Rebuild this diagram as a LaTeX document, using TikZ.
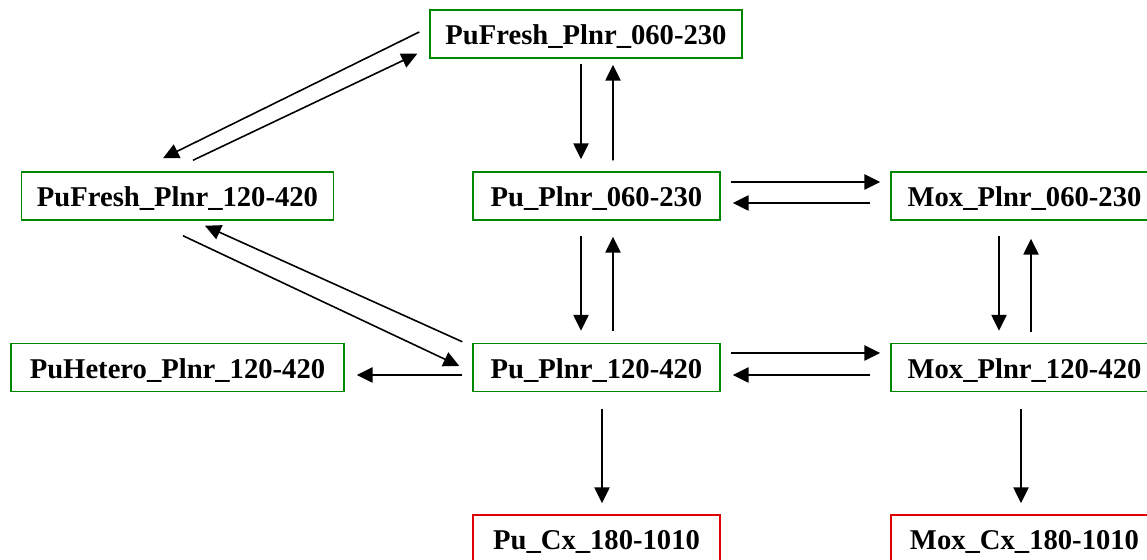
\documentclass[tikz,border=0pt]{standalone}
\usepackage{fontspec}
\setmainfont{Liberation Serif}
\usetikzlibrary{arrows.meta}
\definecolor{boxgreen}{RGB}{0,135,0}
\definecolor{boxred}{RGB}{225,0,0}
\begin{document}
\begin{tikzpicture}[x=0.02cm, y=-0.02cm, >={Triangle[length=9pt,width=8.6pt]},
  box/.style={draw=boxgreen, line width=0.85pt, inner sep=0pt, text height=0.7cm, text depth=0.26cm,
    font=\fontsize{16.3}{19}\selectfont\bfseries},
  cxbox/.style={box, draw=boxred},
  flow/.style={->, line width=0.9pt}]
\useasboundingbox (0,0) rectangle (1147,560);
% upper row
\node[box, minimum width=6.24cm] (fresha) at (586,34) {PuFresh\_Plnr\_060-230};
\node[box, minimum width=6.24cm] (freshb) at (177.5,196) {PuFresh\_Plnr\_120-420};
\node[box, minimum width=4.94cm] (puA) at (596.5,196) {Pu\_Plnr\_060-230};
\node[box, minimum width=5.34cm] (moxA) at (1024.5,196) {Mox\_Plnr\_060-230};
% lower row
\node[box, minimum width=6.66cm] (hetero) at (177.5,367.5) {PuHetero\_Plnr\_120-420};
\node[box, minimum width=4.94cm] (puB) at (596.5,367.5) {Pu\_Plnr\_120-420};
\node[box, minimum width=5.34cm] (moxB) at (1024.5,367.5) {Mox\_Plnr\_120-420};
\node[cxbox, minimum width=4.94cm] (pucx) at (596.5,539) {Pu\_Cx\_180-1010};
\node[cxbox, minimum width=5.34cm] (moxcx) at (1024.5,539) {Mox\_Cx\_180-1010};
% fresh feeds
\draw[flow] ([shift={(-10,-2)}]fresha.west) -- ([shift={(-14.5,-13)}]freshb.north);
\draw[flow] ([shift={(15.5,-11)}]freshb.north) -- ([shift={(-12,-5)}]fresha.south west);
\draw[flow] ([shift={(-5,5)}]fresha.south) -- ([shift={(-15.5,-12)}]puA.north);
\draw[flow] ([shift={(16.5,-11)}]puA.north) -- ([shift={(27,6)}]fresha.south);
\draw[flow] ([shift={(5.5,15)}]freshb.south) -- ([shift={(-13,-1.5)}]puB.west);
\draw[flow] ([shift={(-10,-1)}]puB.north west) -- ([shift={(27.5,5)}]freshb.south);
% Pu <-> Mox
\draw[flow] ([shift={(10,-14)}]puA.east) -- ([shift={(-10,-14)}]moxA.west);
\draw[flow] ([shift={(-20,7)}]moxA.west) -- ([shift={(12,7)}]puA.east);
\draw[flow] ([shift={(10,-14.5)}]puB.east) -- ([shift={(-10,-14.5)}]moxB.west);
\draw[flow] ([shift={(-20,7.5)}]moxB.west) -- ([shift={(12,7.5)}]puB.east);
% vertical links
\draw[flow] ([shift={(-15.5,15)}]puA.south) -- ([shift={(-15.5,-12)}]puB.north);
\draw[flow] ([shift={(16.5,-12)}]puB.north) -- ([shift={(16.5,16)}]puA.south);
\draw[flow] ([shift={(-25.5,15)}]moxA.south) -- ([shift={(-25.5,-12)}]moxB.north);
\draw[flow] ([shift={(6.5,-11)}]moxB.north) -- ([shift={(6.5,18)}]moxA.south);
\draw[flow] ([shift={(-10,7.5)}]puB.west) -- ([shift={(12,7.5)}]hetero.east);
\draw[flow] ([shift={(5.5,17)}]puB.south) -- ([shift={(5.5,-11)}]pucx.north);
\draw[flow] ([shift={(-3.5,17)}]moxB.south) -- ([shift={(-3.5,-11)}]moxcx.north);
\end{tikzpicture}
\end{document}
